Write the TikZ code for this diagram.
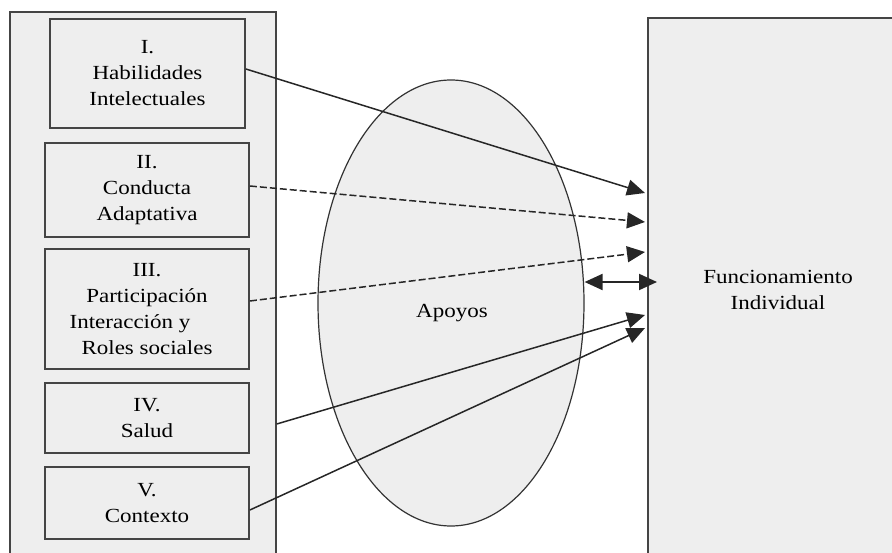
\documentclass[tikz,border=0pt]{standalone}
\usepackage{fontspec}
\setmainfont{Liberation Serif}[FakeStretch=1.15]
\usepackage{tikz}
\usetikzlibrary{positioning,arrows.meta,shapes}
\definecolor{panel}{HTML}{EEEEEE}
\definecolor{rim}{HTML}{444444}
\def\txt{\fontsize{20pt}{26pt}\selectfont}

\begin{document}
\begin{tikzpicture}[>={Triangle[width=16pt,length=18pt]}, box/.style={draw=rim, line width=1.8pt, fill=panel, align=center, font=\txt, inner sep=0pt}, link/.style={draw=black!85, line width=1.5pt}, dashlink/.style={link, dash pattern=on 7pt off 3pt}]
	\useasboundingbox (0pt,0pt) rectangle (892pt,-553pt);
	\draw (143.0pt, -291.0pt)node[box, line width=1.5pt, minimum width=266pt, minimum height=558pt](dimensiones){};
	\draw (147.5pt, -73.5pt)node[box, minimum width=195pt, minimum height=109pt](hab){I.\\Habilidades\\Intelectuales};
	\draw (147.0pt, -190.0pt)node[box, minimum width=204pt, minimum height=94pt](conducta){II.\\Conducta\\Adaptativa};
	\draw (147.0pt, -309.0pt)node[box, minimum width=204pt, minimum height=120pt](particip){III.\\Participación\\Interacción y\kern34pt\\Roles sociales};
	\draw (147.0pt, -418.0pt)node[box, minimum width=204pt, minimum height=70pt](salud){IV.\\Salud};
	\draw (147.0pt, -503.0pt)node[box, minimum width=204pt, minimum height=72pt](contexto){V.\\Contexto};
	\draw (451.0pt, -303.0pt)node[ellipse, draw=black!80, line width=1.2pt, fill=panel, minimum width=266pt, minimum height=446pt, inner sep=0pt](apoyos){};
	\draw (452.0pt, -313.0pt)node[font=\txt](apoyosTxt){Apoyos};
	\draw (778.0pt, -290.0pt)node[box, line width=1.5pt, minimum width=260pt, minimum height=544pt](funcion){Funcionamiento\\Individual};
	\coordinate (t1) at (645pt, -193pt);
	\coordinate (t2) at (645pt, -222pt);
	\coordinate (t3) at (645pt, -252pt);
	\coordinate (t4) at (645pt, -315pt);
	\coordinate (t5) at (645pt, -328pt);
	\coordinate (d2) at (657pt, -282pt);
	\path[->] ([yshift=4.5pt]hab.east) edge[link] (t1);
	\path[->] ([yshift=4pt]conducta.east) edge[dashlink] (t2);
	\path[->] ([yshift=8pt]particip.east) edge[dashlink] (t3);
	\path[->] ([yshift=-133pt]dimensiones.east) edge[link] (t4);
	\path[->] ([yshift=-7pt]contexto.east) edge[link] (t5);
	\path[<->] ([yshift=21pt]apoyos.east) edge[link, line width=2pt] (d2);
\end{tikzpicture}
\end{document}
